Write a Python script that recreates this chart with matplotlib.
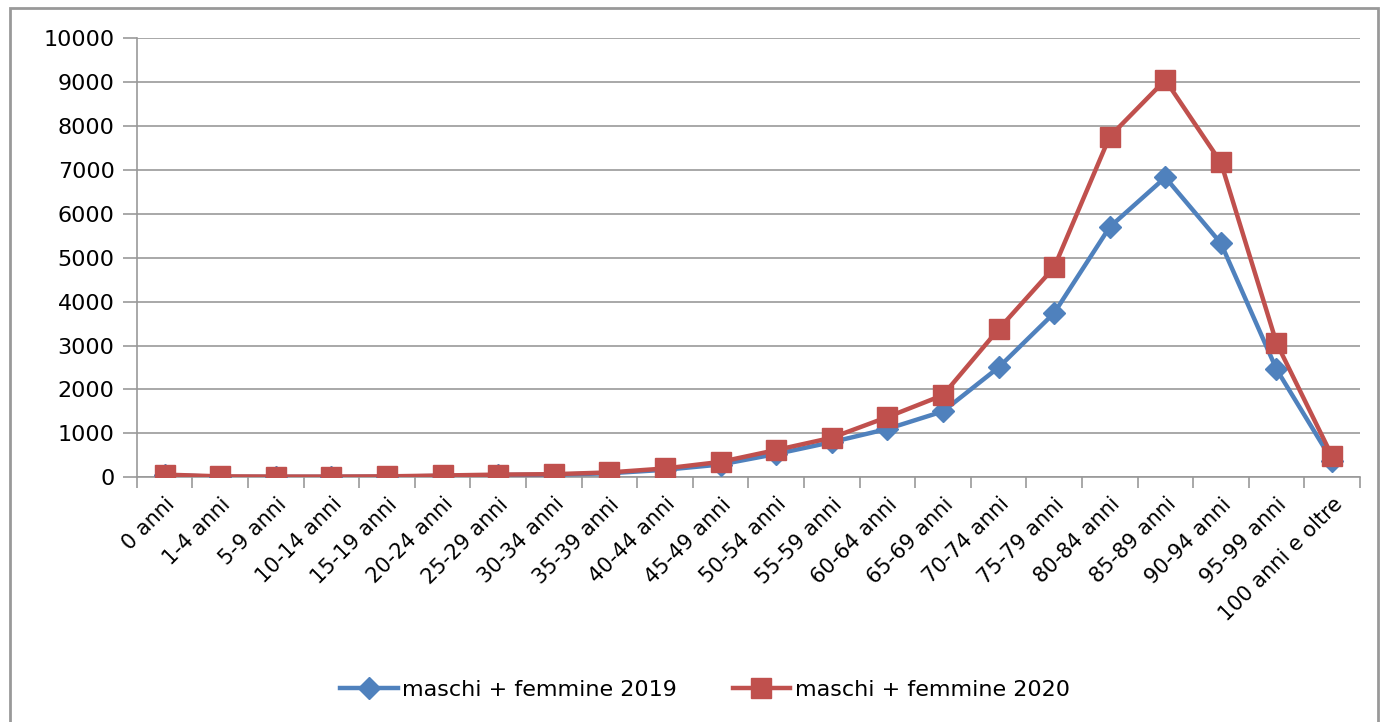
import matplotlib
matplotlib.use('Agg')
import matplotlib.pyplot as plt
from matplotlib.patches import Rectangle
import numpy as np

# Fasce di eta
categorie = ['0 anni', '1-4 anni', '5-9 anni', '10-14 anni', '15-19 anni',
             '20-24 anni', '25-29 anni', '30-34 anni', '35-39 anni', '40-44 anni',
             '45-49 anni', '50-54 anni', '55-59 anni', '60-64 anni', '65-69 anni',
             '70-74 anni', '75-79 anni', '80-84 anni', '85-89 anni', '90-94 anni',
             '95-99 anni', '100 anni e oltre']

valori_2019 = [50, 10, 10, 10, 15, 30, 50, 60, 90, 170,
               290, 530, 800, 1100, 1500, 2500, 3740, 5700, 6830, 5330,
               2460, 380]
valori_2020 = [60, 20, 15, 15, 20, 40, 60, 70, 110, 200,
               350, 620, 900, 1370, 1870, 3370, 4780, 7760, 9050, 7170,
               3060, 480]

blu = '#4F81BD'
rosso = '#C0504D'
grigio = '#999999'

fig = plt.figure(figsize=(13.82, 7.22), dpi=100)
ax = fig.add_axes([0.099, 0.339, 0.885, 0.608])

x = np.arange(len(categorie))
ax.plot(x, valori_2019, color=blu, lw=3.2, marker='D', ms=11,
        label='maschi + femmine 2019', zorder=3)
ax.plot(x, valori_2020, color=rosso, lw=3.2, marker='s', ms=14,
        label='maschi + femmine 2020', zorder=4)

ax.set_xlim(-0.5, len(categorie) - 0.5)
ax.set_ylim(0, 10000)
ax.set_yticks(np.arange(0, 10001, 1000))
ax.grid(axis='y', color=grigio, lw=1.2)
ax.set_axisbelow(True)

ax.set_xticks(x)
ax.set_xticklabels(categorie, rotation=45, ha='right', rotation_mode='anchor',
                   fontsize=15)
ax.set_xticks(np.arange(-0.5, len(categorie)), minor=True)
ax.tick_params(axis='x', which='major', length=0, pad=12)
ax.tick_params(axis='x', which='minor', length=8, color=grigio, width=1.2)
ax.tick_params(axis='y', length=10, color=grigio, width=1.2, labelsize=16, pad=6)

for s in ['top', 'right']:
    ax.spines[s].set_visible(False)
for s in ['left', 'bottom']:
    ax.spines[s].set_color(grigio)
    ax.spines[s].set_linewidth(1.2)

fig.legend(loc='center', bbox_to_anchor=(0.51, 0.044), ncol=2, frameon=False,
           fontsize=16, handlelength=2.6, columnspacing=2.5, handletextpad=0.2)

# cornice esterna
fig.patches.append(Rectangle((10 / 1382, -0.05), 1368 / 1382, 1.05 - 8 / 722,
                             transform=fig.transFigure, fill=False,
                             edgecolor='#999999', lw=2))

fig.savefig('out.png', dpi=100)
